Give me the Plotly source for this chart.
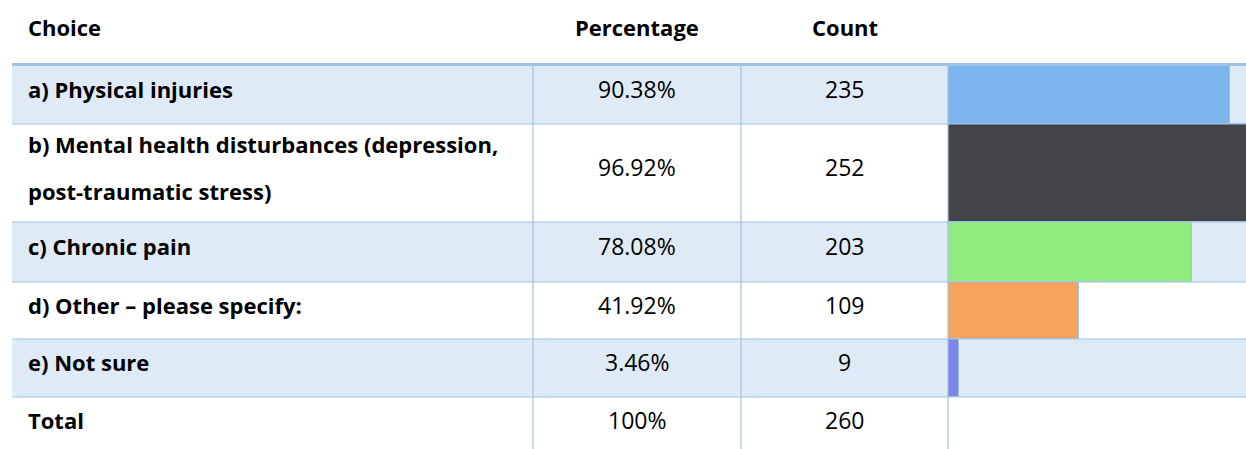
import plotly.graph_objects as go

# ---- data ----
choices = [
    "a) Physical injuries",
    "b) Mental health disturbances (depression,<br>post-traumatic stress)",
    "c) Chronic pain",
    "d) Other \u2013 please specify:",
    "e) Not sure",
]
percentages = [90.38, 96.92, 78.08, 41.92, 3.46]
counts = [235, 252, 203, 109, 9]
total_label = "Total"
total_percentage = "100%"
total_count = 260
headers = ["Choice", "Percentage", "Count"]
bar_colors = ["#7cb5ec", "#434348", "#90ed7d", "#f7a35c", "#8085e9"]

# ---- layout geometry (pixel units) ----
W, H = 1246, 449
row_edges = [65, 124, 222, 282, 339, 397, 460]
col_edges = [12, 533, 741, 948, W]
px_per_pct = 3.125
fill_col = "#deeaf6"
line_col = "#9dc3e6"
FONT = "Open Sans"
FS_BOLD = 22
FS_REG = 23

fig = go.Figure()

shapes = []
n_rows = len(choices) + 1
for i in range(n_rows):
    y0, y1 = row_edges[i], row_edges[i + 1]
    if i % 2 == 0:
        shapes.append(dict(type="rect", xref="x", yref="y", x0=col_edges[0], x1=W,
                           y0=y0, y1=y1, fillcolor=fill_col, line=dict(width=0), layer="below"))
# horizontal lines
for i in range(1, n_rows):
    shapes.append(dict(type="line", xref="x", yref="y", x0=col_edges[0], x1=W,
                       y0=row_edges[i], y1=row_edges[i], line=dict(color=line_col, width=1.2), layer="above"))
# top thick border
shapes.append(dict(type="line", xref="x", yref="y", x0=col_edges[0], x1=W,
                   y0=row_edges[0] - 0.5, y1=row_edges[0] - 0.5, line=dict(color=line_col, width=3), layer="above"))
# vertical lines
for cx in col_edges[1:4]:
    shapes.append(dict(type="line", xref="x", yref="y", x0=cx, x1=cx,
                       y0=row_edges[0], y1=H + 5, line=dict(color=line_col, width=1.2), layer="above"))

# bars
centers = [(row_edges[i] + row_edges[i + 1]) / 2 for i in range(len(choices))]
heights = [row_edges[i + 1] - row_edges[i] for i in range(len(choices))]
fig.add_trace(go.Bar(
    x=percentages, y=centers, width=heights, base=0, orientation="h",
    marker=dict(color=bar_colors, line=dict(color=line_col, width=1)),
    xaxis="x2", yaxis="y", hoverinfo="skip", showlegend=False,
))

annotations = []
def txt(x, y, s, bold=False, anchor="left"):
    annotations.append(dict(x=x, y=y, xref="x", yref="y", text=("<b>%s</b>" % s) if bold else s,
                            showarrow=False, xanchor=anchor, yanchor="middle",
                            font=dict(family=FONT, size=FS_BOLD if bold else FS_REG, color="#000")))

pct_x = (col_edges[1] + col_edges[2]) / 2
cnt_x = (col_edges[2] + col_edges[3]) / 2
txt(26, 27, headers[0], True)
txt(pct_x, 27, headers[1], True, "center")
txt(cnt_x, 27, headers[2], True, "center")

line_gap = 47
for i, (c, p, n) in enumerate(zip(choices, percentages, counts)):
    mid = (row_edges[i] + row_edges[i + 1]) / 2 - 6
    lines = c.split("<br>")
    start = mid - line_gap * (len(lines) - 1) / 2
    for k, ln in enumerate(lines):
        txt(26, start + k * line_gap, ln, True)
    txt(pct_x, mid, "%.2f%%" % p, False, "center")
    txt(cnt_x, mid, str(n), False, "center")

ty = row_edges[5] + 23
txt(26, ty, total_label, True)
txt(pct_x, ty, total_percentage, False, "center")
txt(cnt_x, ty, str(total_count), False, "center")

fig.update_layout(
    width=W, height=H, margin=dict(l=0, r=0, t=0, b=0),
    paper_bgcolor="white", plot_bgcolor="rgba(0,0,0,0)",
    shapes=shapes, annotations=annotations,
    xaxis=dict(range=[0, W], domain=[0, 1], visible=False, fixedrange=True),
    xaxis2=dict(range=[0, (W - col_edges[3]) / px_per_pct], domain=[col_edges[3] / W, 1],
                anchor="y", visible=False, fixedrange=True),
    yaxis=dict(range=[H, 0], domain=[0, 1], visible=False, fixedrange=True),
    bargap=0,
)

fig.write_html("out.html", config={"displayModeBar": False},
               post_script="document.body.style.margin='0';document.body.style.overflow='hidden';")
